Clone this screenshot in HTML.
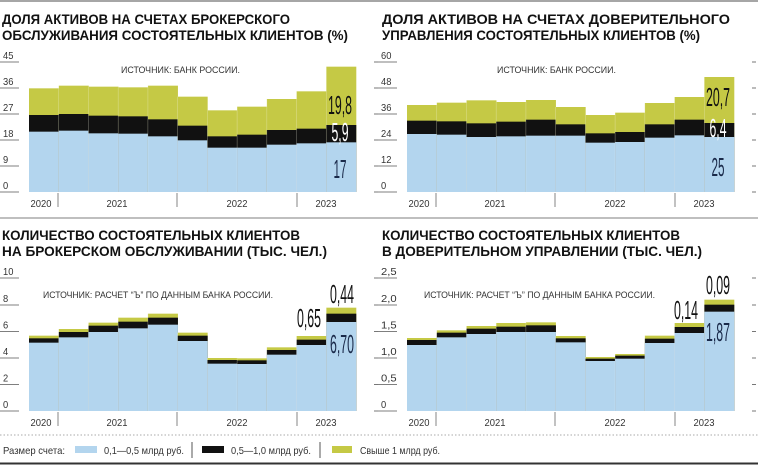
<!DOCTYPE html>
<html><head><meta charset="utf-8"><style>
html,body{margin:0;padding:0;background:#fff}
svg{display:block}
text{font-family:"Liberation Sans","DejaVu Sans",sans-serif}
.t{font-weight:bold;font-size:14px;fill:#111}
.ax{font-size:10.5px;fill:#333}
.src{font-size:9.5px;fill:#333}
.big{font-size:26px}
</style></head><body>
<svg id="s" width="758" height="465" viewBox="0 0 758 465" xmlns="http://www.w3.org/2000/svg">
<line x1="0" y1="1" x2="758" y2="1" stroke="#888" stroke-width="1.5"/>
<line x1="0" y1="218" x2="758" y2="218" stroke="#999" stroke-width="1.2"/>
<line x1="0" y1="435" x2="758" y2="435" stroke="#aaa" stroke-width="1" stroke-dasharray="1.5,2"/>
<line x1="0" y1="463.5" x2="758" y2="463.5" stroke="#333" stroke-width="2"/>

<text class="t" x="2" y="24" textLength="288" lengthAdjust="spacingAndGlyphs">ДОЛЯ АКТИВОВ НА СЧЕТАХ БРОКЕРСКОГО</text>
<text class="t" x="2" y="40" textLength="346" lengthAdjust="spacingAndGlyphs">ОБСЛУЖИВАНИЯ СОСТОЯТЕЛЬНЫХ КЛИЕНТОВ (%)</text>
<text class="t" x="382" y="24" textLength="348" lengthAdjust="spacingAndGlyphs">ДОЛЯ АКТИВОВ НА СЧЕТАХ ДОВЕРИТЕЛЬНОГО</text>
<text class="t" x="382" y="40" textLength="318" lengthAdjust="spacingAndGlyphs">УПРАВЛЕНИЯ СОСТОЯТЕЛЬНЫХ КЛИЕНТОВ (%)</text>
<text class="t" x="2" y="240" textLength="298" lengthAdjust="spacingAndGlyphs">КОЛИЧЕСТВО СОСТОЯТЕЛЬНЫХ КЛИЕНТОВ</text>
<text class="t" x="2" y="256" textLength="325" lengthAdjust="spacingAndGlyphs">НА БРОКЕРСКОМ ОБСЛУЖИВАНИИ (ТЫС. ЧЕЛ.)</text>
<text class="t" x="382" y="240" textLength="298" lengthAdjust="spacingAndGlyphs">КОЛИЧЕСТВО СОСТОЯТЕЛЬНЫХ КЛИЕНТОВ</text>
<text class="t" x="382" y="256" textLength="320" lengthAdjust="spacingAndGlyphs">В ДОВЕРИТЕЛЬНОМ УПРАВЛЕНИИ (ТЫС. ЧЕЛ.)</text>

<g id="g"></g>

<text class="ax" x="3" y="454" textLength="62" lengthAdjust="spacingAndGlyphs">Размер счета:</text>
<rect x="75" y="446" width="22" height="7" fill="#b3d5ee"/>
<text class="ax" x="104" y="454" textLength="80" lengthAdjust="spacingAndGlyphs">0,1—0,5 млрд руб.</text>
<line x1="192" y1="442" x2="192" y2="458" stroke="#555"/>
<rect x="202" y="446" width="22" height="7" fill="#111"/>
<text class="ax" x="231" y="454" textLength="80" lengthAdjust="spacingAndGlyphs">0,5—1,0 млрд руб.</text>
<line x1="320" y1="442" x2="320" y2="458" stroke="#555"/>
<rect x="332" y="446" width="20" height="7" fill="#c5c945"/>
<text class="ax" x="360" y="454" textLength="80" lengthAdjust="spacingAndGlyphs">Свыше 1 млрд руб.</text>
</svg>
<script>
var NS="http://www.w3.org/2000/svg",G=document.getElementById("g");
function el(t,a,txt){var e=document.createElementNS(NS,t);for(var k in a)e.setAttribute(k,a[k]);if(txt!==undefined)e.textContent=txt;G.appendChild(e);return e;}
function chart(ox,oy,base,ticks,bars,src,srcx,srcy,srcw,labels){
  var x0=ox+29,w=(356-29)/11;
  bars.forEach(function(b,i){
    var x=x0+i*w;
    var g=oy+b[0]/3,k=oy+b[1]/3,u=oy+b[2]/3;
    el("rect",{x:x,y:g,width:w+0.3,height:base-g,fill:"#c5c945"});
    el("rect",{x:x,y:k,width:w+0.3,height:base-k,fill:"#111"});
    el("rect",{x:x,y:u,width:w+0.3,height:base-u,fill:"#b3d5ee"});
    if(i>0)el("line",{x1:x,y1:g,x2:x,y2:base,stroke:"rgba(255,255,255,0.35)","stroke-width":0.6});
  });
  ticks.forEach(function(t){
    el("line",{x1:ox,y1:t[1],x2:ox+19,y2:t[1],stroke:"#555","stroke-width":0.8});
    el("line",{x1:ox+374,y1:t[1],x2:ox+378,y2:t[1],stroke:"#555","stroke-width":0.8});
    el("text",{x:ox+3,y:t[1]-3,"class":"ax",textLength:t[0].length*5.2,lengthAdjust:"spacingAndGlyphs"},t[0]);
  });
  var yy=base+15;
  [58,177,297].forEach(function(d){el("line",{x1:ox+d,y1:base+1,x2:ox+d,y2:base+15,stroke:"#666","stroke-width":0.8});});
  [["2020",41],["2021",117],["2022",237],["2023",326]].forEach(function(y){el("text",{x:ox+y[1],y:yy,"class":"ax","text-anchor":"middle",textLength:21,lengthAdjust:"spacingAndGlyphs"},y[0]);});
  el("text",{x:ox+srcx,y:srcy,"class":"src",textLength:srcw,lengthAdjust:"spacingAndGlyphs"},src);
  labels.forEach(function(l){el("text",{x:ox+l[1],y:l[2],"class":"big",fill:l[3],"text-anchor":"middle",textLength:l[4],lengthAdjust:"spacingAndGlyphs"},l[0]);});
}
chart(0,40,192,[["45",62],["36",88],["27",114],["18",140],["9",166],["0",192]],
[[145,225,275],[137,222,272],[140,227,280],[142,229,281],[137,238,289],[170,257,301],[211,289,323],[200,284,323],[177,270,314],[154,266,310],[80,255,307]],
"ИСТОЧНИК: БАНК РОССИИ.",121,73,119,
[["19,8",340,114,"#111",24],["5,9",340,141,"#fff",17],["17",340,178,"#1a2a4a",13]]);
chart(378,40,192,[["60",62],["48",88],["36",114],["24",140],["12",166],["0",192]],
[[195,242,282],[188,244,284],[181,250,291],[186,245,289],[180,239,287],[201,253,287],[225,280,308],[218,276,306],[189,253,293],[171,239,286],[111,249,291]],
"ИСТОЧНИК: БАНК РОССИИ.",119,73,119,
[["20,7",340,106,"#111",24],["6,4",340,137,"#fff",17],["25",340,176,"#1a2a4a",13]]);
chart(0,270,411,[["10",278],["8",305],["6",331.5],["4",358],["2",384.5],["0",411]],
[[197,205,218],[177,186,202],[158,167,186],[143,155,175],[131,143,164],[188,197,213],[264,270,281],[265,271,282],[232,240,254],[198,209,225],[113,131,156]],
"ИСТОЧНИК: РАСЧЕТ “Ъ” ПО ДАННЫМ БАНКА РОССИИ.",43,298,230,
[["0,44",342,303,"#111",24],["0,65",309,327,"#111",24],["6,70",342,353,"#1a2a4a",24]]);
chart(378,270,411,[["2,5",278],["2,0",305],["1,5",331.5],["1,0",358],["0,5",384.5],["0",411]],
[[204,210,225],[181,188,202],[168,176,192],[159,170,186],[157,166,186],[198,205,217],[261,266,273],[252,257,266],[197,206,219],[159,171,189],[89,104,125]],
"ИСТОЧНИК: РАСЧЕТ “Ъ” ПО ДАННЫМ БАНКА РОССИИ.",46,298,231,
[["0,09",340,294,"#111",24],["0,14",308,319,"#111",24],["1,87",340,341,"#1a2a4a",24]]);
</script>
</body></html>
